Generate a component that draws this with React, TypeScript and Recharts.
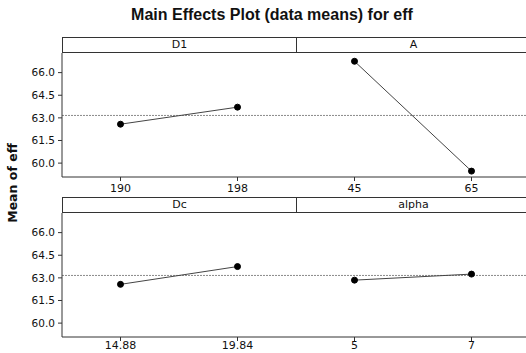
import React from 'react';
import { LineChart, Line, XAxis, YAxis, ReferenceLine } from 'recharts';

// ---- data ----
const d1Levels = ['190', '198'];
const d1Means = [62.58, 63.71];
const aLevels = ['45', '65'];
const aMeans = [66.75, 59.47];
const dcLevels = ['14.88', '19.84'];
const dcMeans = [62.57, 63.75];
const alphaLevels = ['5', '7'];
const alphaMeans = [62.85, 63.25];
const yTicks = [60.0, 61.5, 63.0, 64.5, 66.0];
const grandMean = 63.16;
const yDomain: [number, number] = [59.08, 67.3];

const title = 'Main Effects Plot (data means) for eff';
const yLabel = 'Mean of eff';

const FONT = '"DejaVu Sans", sans-serif';
const TXT = '#111';
const AX = '#333';

type PanelProps = {
  name: string;
  levels: string[];
  means: number[];
  plotLeft: number;
  stripTop: number;
  showY: boolean;
  tickMargin: number;
};

const PANEL_W = 234;
const STRIP_H = 16;
const PLOT_H = 124;
const XAXIS_H = 25;
const YAXIS_W = 62;
const X_PAD = 58.5;

function Panel({ name, levels, means, plotLeft, stripTop, showY, tickMargin }: PanelProps) {
  const data = levels.map((l, i) => ({ level: l, mean: means[i] }));
  const chartLeft = showY ? plotLeft - YAXIS_W : plotLeft;
  const chartW = showY ? PANEL_W + YAXIS_W : PANEL_W;
  const chartTop = stripTop + STRIP_H;
  return (
    <>
      <div
        style={{
          position: 'absolute',
          left: plotLeft,
          top: stripTop,
          width: PANEL_W + 1,
          height: STRIP_H,
          borderTop: `1px solid ${AX}`,
          borderBottom: `1px solid ${AX}`,
          borderLeft: `1px solid ${AX}`,
          borderRight: `1px solid ${AX}`,
          boxSizing: 'border-box',
          fontFamily: FONT,
          fontSize: 11,
          color: TXT,
          textAlign: 'center',
          lineHeight: '14px',
        }}
      >
        {name}
      </div>
      <div style={{ position: 'absolute', left: chartLeft, top: chartTop }}>
        <LineChart
          width={chartW}
          height={PLOT_H + XAXIS_H}
          data={data}
          margin={{ top: 0, right: 0, bottom: 0, left: 0 }}
        >
          <XAxis
            dataKey="level"
            height={XAXIS_H}
            stroke={AX}
            tickSize={4}
            tickMargin={tickMargin}
            padding={{ left: X_PAD, right: X_PAD }}
            tick={{ fill: TXT, fontSize: 11, fontFamily: FONT }}
          />
          {showY ? (
            <YAxis
              type="number"
              domain={yDomain}
              ticks={yTicks}
              width={YAXIS_W}
              stroke={AX}
              tickSize={4}
              tickMargin={3}
              tickFormatter={(v: number) => v.toFixed(1)}
              tick={{ fill: TXT, fontSize: 10.5, fontFamily: FONT }}
            />
          ) : (
            <YAxis
              type="number"
              domain={yDomain}
              ticks={yTicks}
              width={0}
              stroke={AX}
              tick={false}
              tickLine={false}
            />
          )}
          <ReferenceLine y={grandMean} stroke="#8a8a8a" strokeDasharray="2 1" />
          <Line
            type="linear"
            dataKey="mean"
            stroke="#444"
            strokeWidth={1}
            dot={{ r: 3, fill: '#000', stroke: '#000', strokeWidth: 1 }}
            isAnimationActive={false}
          />
        </LineChart>
      </div>
    </>
  );
}

export default function App() {
  return (
    <div
      style={{
        position: 'absolute',
        left: 0,
        top: 0,
        width: 526,
        height: 353,
        overflow: 'hidden',
        background: '#fff',
      }}
    >
      <div
        style={{
          position: 'absolute',
          left: 0,
          top: 6,
          width: 544,
          textAlign: 'center',
          fontFamily: '"Liberation Sans", sans-serif',
          fontWeight: 'bold',
          fontSize: 16,
          color: TXT,
        }}
      >
        {title}
      </div>
      <div
        style={{
          position: 'absolute',
          left: 13 - 50,
          top: 183 - 8,
          width: 100,
          height: 16,
          transform: 'rotate(-90deg)',
          textAlign: 'center',
          fontFamily: '"DejaVu Sans", sans-serif',
          fontWeight: 'bold',
          fontSize: 12.5,
          lineHeight: '16px',
          color: TXT,
        }}
      >
        {yLabel}
      </div>
      <Panel name="D1" levels={d1Levels} means={d1Means} plotLeft={62} stripTop={37} showY tickMargin={3} />
      <Panel name="A" levels={aLevels} means={aMeans} plotLeft={296} stripTop={37} showY={false} tickMargin={3} />
      <Panel name="Dc" levels={dcLevels} means={dcMeans} plotLeft={62} stripTop={197} showY tickMargin={0} />
      <Panel name="alpha" levels={alphaLevels} means={alphaMeans} plotLeft={296} stripTop={197} showY={false} tickMargin={0} />
    </div>
  );
}
